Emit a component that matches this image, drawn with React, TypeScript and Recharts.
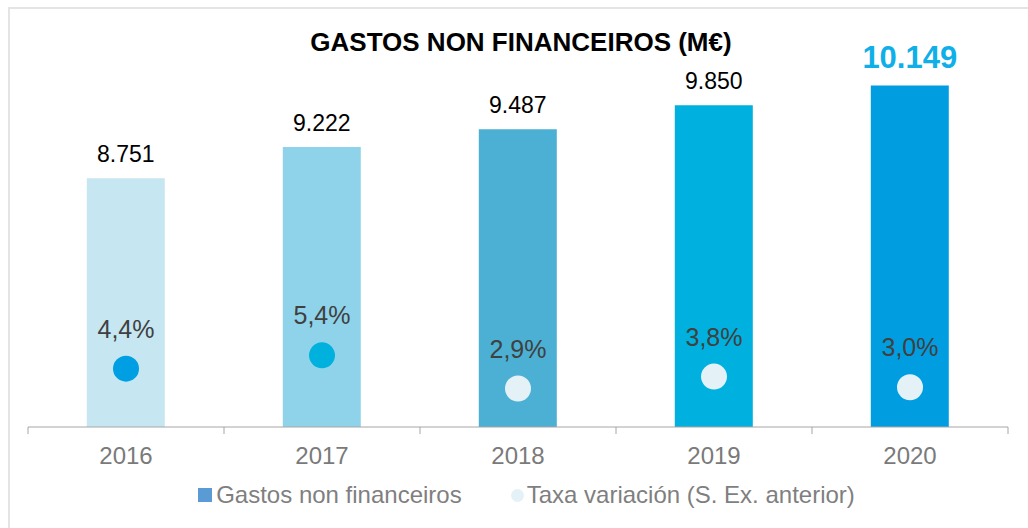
import { Bar, Cell, ComposedChart, LabelList, Legend, Line, XAxis, YAxis } from "recharts";

const years = ["2016", "2017", "2018", "2019", "2020"];
const gastos = [8751, 9222, 9487, 9850, 10149];
const taxa = [4.4, 5.4, 2.9, 3.8, 3.0];

const barColors = ["#C6E7F2", "#8FD3EA", "#4BB0D3", "#00B0DE", "#009EE0"];
const dotColors = ["#009FE3", "#00B0DD", "#E4F2F8", "#E4F2F8", "#E4F2F8"];

const data = years.map((year, i) => ({ year, gastos: gastos[i], taxa: taxa[i] }));

const font = "'Liberation Sans', Arial, sans-serif";

const fmtThousands = (v: number) => String(v).replace(/\B(?=(\d{3})+(?!\d))/g, ".");
const fmtPct = (v: number) => `${v.toFixed(1).replace(".", ",")}%`;

function BarLabel(props: any) {
  const { x, y, width, value, index } = props;
  const last = index === years.length - 1;
  return (
    <text
      x={x + width / 2}
      y={y - (last ? 17 : 16)}
      textAnchor="middle"
      fontSize={last ? 31 : 23}
      fontWeight={last ? 700 : 400}
      fill={last ? "#10AFE8" : "#000000"}
      fontFamily={font}
    >
      {fmtThousands(value)}
    </text>
  );
}

function RateLabel(props: any) {
  const { x, y, value } = props;
  return (
    <text x={x} y={y - 31} textAnchor="middle" fontSize={25} fill="#404040" fontFamily={font}>
      {fmtPct(value)}
    </text>
  );
}

function RateDot(props: any) {
  const { cx, cy, index } = props;
  return <circle key={`dot-${index}`} cx={cx} cy={cy} r={13} fill={dotColors[index]} />;
}

function YearTick(props: any) {
  const { x, y, payload, width, visibleTicksCount, index } = props;
  const half = width / visibleTicksCount / 2;
  return (
    <g>
      <line x1={x - half} y1={y} x2={x - half} y2={y + 7} stroke="#A6A6A6" />
      {index === visibleTicksCount - 1 && (
        <line x1={x + half} y1={y} x2={x + half} y2={y + 7} stroke="#A6A6A6" />
      )}
      <text x={x} y={y + 37} textAnchor="middle" fontSize={24} fill="#7A7A7A" fontFamily={font}>
        {payload.value}
      </text>
    </g>
  );
}

function LegendContent() {
  return (
    <div
      style={{
        display: "flex",
        justifyContent: "center",
        gap: 49,
        fontFamily: font,
        fontSize: 24,
        color: "#7F7F7F",
        paddingLeft: 25,
      }}
    >
      <div style={{ display: "flex", alignItems: "center", gap: 4 }}>
        <span style={{ width: 14, height: 14, background: "#5B9BD5", display: "inline-block" }} />
        <span>Gastos non financeiros</span>
      </div>
      <div style={{ display: "flex", alignItems: "center", gap: 3 }}>
        <span
          style={{
            width: 13,
            height: 13,
            borderRadius: "50%",
            background: "#E4F2F8",
            display: "inline-block",
          }}
        />
        <span>Taxa variación (S. Ex. anterior)</span>
      </div>
    </div>
  );
}

export default function App() {
  return (
    <div style={{ position: "absolute", left: 0, top: 0, width: 1028, height: 528, background: "#fff" }}>
      <div
        style={{
          position: "absolute",
          left: 8,
          top: 7,
          width: 1020,
          height: 521,
          borderTop: "2px solid #E4E4E4",
          borderLeft: "2px solid #E4E4E4",
          boxSizing: "border-box",
        }}
      />
      <div
        style={{
          position: "absolute",
          left: 0,
          top: 27,
          width: 1042,
          textAlign: "center",
          fontFamily: font,
          fontWeight: 700,
          fontSize: 26,
          color: "#000",
        }}
      >
        GASTOS NON FINANCEIROS (M€)
      </div>
      <div style={{ position: "absolute", left: 0, top: 0 }}>
        <ComposedChart
          width={1028}
          height={528}
          data={data}
          margin={{ top: 29, right: 20, left: 28, bottom: 71 }}
          barCategoryGap="30%"
        >
          <XAxis
            dataKey="year"
            height={30}
            axisLine={{ stroke: "#A6A6A6" }}
            tickLine={false}
            tickSize={0}
            tickMargin={0}
            tick={<YearTick />}
            interval={0}
          />
          <YAxis yAxisId="val" domain={[5000, 11000]} hide />
          <YAxis yAxisId="rate" domain={[0, 30]} hide />
          <Legend
            layout="horizontal"
            verticalAlign="middle"
            align="center"
            content={<LegendContent />}
            wrapperStyle={{ top: 481, left: 0, width: 1028 }}
          />
          <Bar yAxisId="val" dataKey="gastos" name="Gastos non financeiros" isAnimationActive={false}>
            {data.map((d, i) => (
              <Cell key={d.year} fill={barColors[i]} />
            ))}
            <LabelList dataKey="gastos" content={<BarLabel />} />
          </Bar>
          <Line
            yAxisId="rate"
            dataKey="taxa"
            name="Taxa variación (S. Ex. anterior)"
            stroke="none"
            dot={RateDot}
            activeDot={false}
            isAnimationActive={false}
          >
            <LabelList dataKey="taxa" content={<RateLabel />} />
          </Line>
        </ComposedChart>
      </div>
    </div>
  );
}
